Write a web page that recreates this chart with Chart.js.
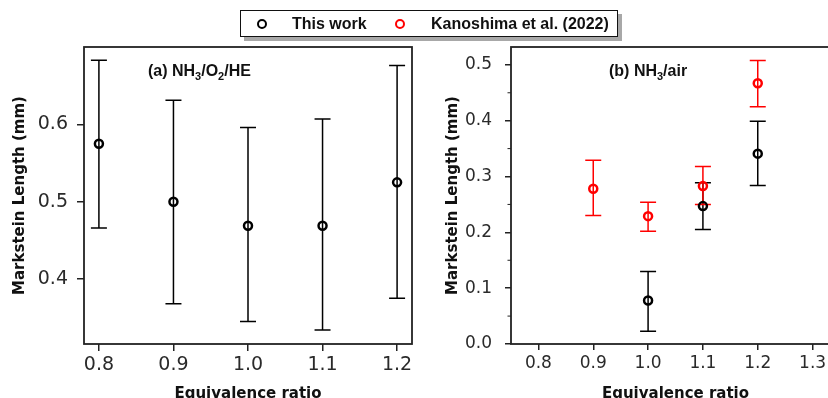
<!DOCTYPE html>
<html>
<head>
<meta charset="utf-8">
<script src="https://cdn.jsdelivr.net/npm/chart.js@4.4.1/dist/chart.umd.min.js"></script>
<style>
  html, body { margin: 0; padding: 0; background: #fff; }
  body { width: 828px; height: 398px; overflow: hidden; position: relative; }
  .panel { position: absolute; top: 0; width: 420px; height: 398px; }
  #legend {
    position: absolute; left: 240px; top: 10px; width: 376px; height: 25px;
    border: 1.5px solid #111; background: #fff; box-shadow: 4px 4px 0 #a8a8a8;
    font: bold 16px "Liberation Sans", Arial, sans-serif; color: #111;
  }
  #legend .mk { position: absolute; top: 8px; width: 6px; height: 6px; border: 2px solid #000; border-radius: 50%; }
  #legend .lb { position: absolute; top: 4px; white-space: nowrap; }
</style>
</head>
<body>
<div class="panel" style="left:0"><canvas id="chartA"></canvas></div>
<div class="panel" style="left:430px"><canvas id="chartB"></canvas></div>
<div id="legend">
  <span class="mk" style="left:16px"></span><span class="lb" style="left:51px">This work</span>
  <span class="mk" style="left:154px;border-color:#ff0000"></span><span class="lb" style="left:190px">Kanoshima et al. (2022)</span>
</div>
<script>
// (a) NH3/O2/HE - this work
const phiA = [0.8, 0.9, 1.0, 1.1, 1.2];
const lengthA = [0.575, 0.500, 0.469, 0.469, 0.525];
const lowA = [0.466, 0.368, 0.345, 0.334, 0.375];
const highA = [0.683, 0.631, 0.596, 0.607, 0.676];

// (b) NH3/air - this work
const phiB = [1.0, 1.1, 1.2];
const lengthB = [0.078, 0.247, 0.341];
const lowB = [0.023, 0.205, 0.284];
const highB = [0.130, 0.289, 0.399];

// (b) NH3/air - Kanoshima et al. (2022)
const phiK = [0.9, 1.0, 1.1, 1.2];
const lengthK = [0.278, 0.229, 0.283, 0.467];
const lowK = [0.230, 0.202, 0.250, 0.425];
const highK = [0.329, 0.254, 0.318, 0.508];

// tick labels
const xTicksA = [0.8, 0.9, 1.0, 1.1, 1.2];
const yTicksA = [0.4, 0.5, 0.6];
const xTicksB = [0.8, 0.9, 1.0, 1.1, 1.2, 1.3];
const yTicksB = [0.0, 0.1, 0.2, 0.3, 0.4, 0.5];
const yMinorB = [0.05, 0.15, 0.25, 0.35, 0.45];

const BLACK = "#000000";
const RED = "#ff0000";
const AXIS = "#222222";

function points(xs, ys) {
  return xs.map((x, i) => ({ x: x, y: ys[i] }));
}

// error bars, drawn under the markers
const errorBars = {
  id: "errorBars",
  beforeDatasetsDraw(chart) {
    const ctx = chart.ctx;
    const xs = chart.scales.x, ys = chart.scales.y;
    chart.data.datasets.forEach((ds) => {
      ctx.save();
      ctx.strokeStyle = ds.borderColor;
      ctx.lineWidth = 1.5;
      ds.data.forEach((p, i) => {
        const px = xs.getPixelForValue(p.x);
        const y1 = ys.getPixelForValue(ds.low[i]);
        const y2 = ys.getPixelForValue(ds.high[i]);
        ctx.beginPath();
        ctx.moveTo(px, y1); ctx.lineTo(px, y2);
        ctx.moveTo(px - 8, y1); ctx.lineTo(px + 8, y1);
        ctx.moveTo(px - 8, y2); ctx.lineTo(px + 8, y2);
        ctx.stroke();
      });
      ctx.restore();
    });
  }
};

// frame, minor ticks and panel label
const decor = {
  id: "decor",
  afterDraw(chart, args, opts) {
    const ctx = chart.ctx;
    const a = chart.chartArea;
    ctx.save();
    ctx.strokeStyle = AXIS;
    ctx.lineWidth = 1.8;
    ctx.strokeRect(a.left, a.top, a.right - a.left, a.bottom - a.top);
    if (opts.minor) {
      ctx.lineWidth = 1;
      opts.minor.forEach((v) => {
        const py = chart.scales.y.getPixelForValue(v);
        ctx.beginPath();
        ctx.moveTo(a.left - 3.5, py); ctx.lineTo(a.left, py);
        ctx.stroke();
      });
    }
    // label with subscripts
    ctx.fillStyle = "#111";
    ctx.textBaseline = "alphabetic";
    let x = opts.x;
    const y = a.top + opts.dy;
    opts.parts.forEach((part) => {
      if (part.sub) {
        ctx.font = "bold 11px 'Liberation Sans', Arial, sans-serif";
        ctx.fillText(part.t, x, y + 4);
      } else {
        ctx.font = "bold 16px 'Liberation Sans', Arial, sans-serif";
        ctx.fillText(part.t, x, y);
      }
      x += ctx.measureText(part.t).width;
    });
    ctx.restore();
  }
};

function makeChart(id, cfg) {
  return new Chart(document.getElementById(id), {
    type: "scatter",
    data: { datasets: cfg.datasets },
    options: {
      responsive: false,
      animation: false,
      layout: { padding: { left: 0, top: 47, right: cfg.padRight, bottom: 0 } },
      plugins: {
        legend: { display: false },
        tooltip: { enabled: false },
        decor: cfg.decor
      },
      scales: {
        x: {
          type: "linear",
          min: cfg.xMin, max: cfg.xMax,
          afterBuildTicks: (s) => { s.ticks = cfg.xTicks.map((v) => ({ value: v })); },
          afterFit: (s) => { s.height = 54; },
          border: { display: false },
          grid: { drawOnChartArea: false, color: AXIS, lineWidth: 1.5, tickLength: cfg.tickLen },
          ticks: {
            color: "#2a2a2a", padding: 3,
            font: { family: "'DejaVu Sans', sans-serif", size: cfg.tickSize },
            callback: (v) => v.toFixed(1)
          },
          title: {
            display: true, text: "Equivalence ratio", color: "#111",
            font: { family: "'DejaVu Sans', sans-serif", size: 15, weight: "bold" },
            padding: { top: 0, bottom: -5 }
          }
        },
        y: {
          type: "linear",
          min: cfg.yMin, max: cfg.yMax,
          afterBuildTicks: (s) => { s.ticks = cfg.yTicks.map((v) => ({ value: v })); },
          afterFit: (s) => { s.width = cfg.yWidth; },
          border: { display: false },
          grid: { drawOnChartArea: false, color: AXIS, lineWidth: 1.5, tickLength: cfg.tickLen },
          ticks: {
            color: "#2a2a2a", padding: cfg.yPad,
            font: { family: "'DejaVu Sans', sans-serif", size: cfg.tickSize },
            callback: (v) => v.toFixed(1)
          },
          title: {
            display: true, text: "Markstein Length (mm)", color: "#111",
            font: { family: "'DejaVu Sans', sans-serif", size: 15, weight: "bold" },
            padding: { top: cfg.titlePad, bottom: 0 }
          }
        }
      }
    },
    plugins: [errorBars, decor]
  });
}

function series(xs, ys, low, high, color) {
  return {
    data: points(xs, ys), low: low, high: high,
    borderColor: color, backgroundColor: "rgba(0,0,0,0)",
    pointRadius: 4, pointBorderWidth: 2.5, pointStyle: "circle", showLine: false
  };
}

const canvasA = document.getElementById("chartA");
canvasA.width = 420; canvasA.height = 398;
makeChart("chartA", {
  datasets: [series(phiA, lengthA, lowA, highA, BLACK)],
  xMin: 0.78, xMax: 1.22, yMin: 0.316, yMax: 0.70,
  xTicks: xTicksA, yTicks: yTicksA,
  padRight: 8, yWidth: 84, yPad: 9, tickLen: 7, tickSize: 19, titlePad: 11,
  decor: { x: 148, dy: 29, parts: [{ t: "(a) NH" }, { t: "3", sub: true }, { t: "/O" }, { t: "2", sub: true }, { t: "/HE" }] }
});

const canvasB = document.getElementById("chartB");
canvasB.width = 420; canvasB.height = 398;
makeChart("chartB", {
  datasets: [series(phiB, lengthB, lowB, highB, BLACK), series(phiK, lengthK, lowK, highK, RED)],
  xMin: 0.75, xMax: 1.35, yMin: 0, yMax: 0.532,
  xTicks: xTicksB, yTicks: yTicksB,
  padRight: 10, yWidth: 81, yPad: 13, tickLen: 6, tickSize: 17, titlePad: 14,
  decor: { x: 179, dy: 29, minor: yMinorB, parts: [{ t: "(b) NH" }, { t: "3", sub: true }, { t: "/air" }] }
});
</script>
</body>
</html>
